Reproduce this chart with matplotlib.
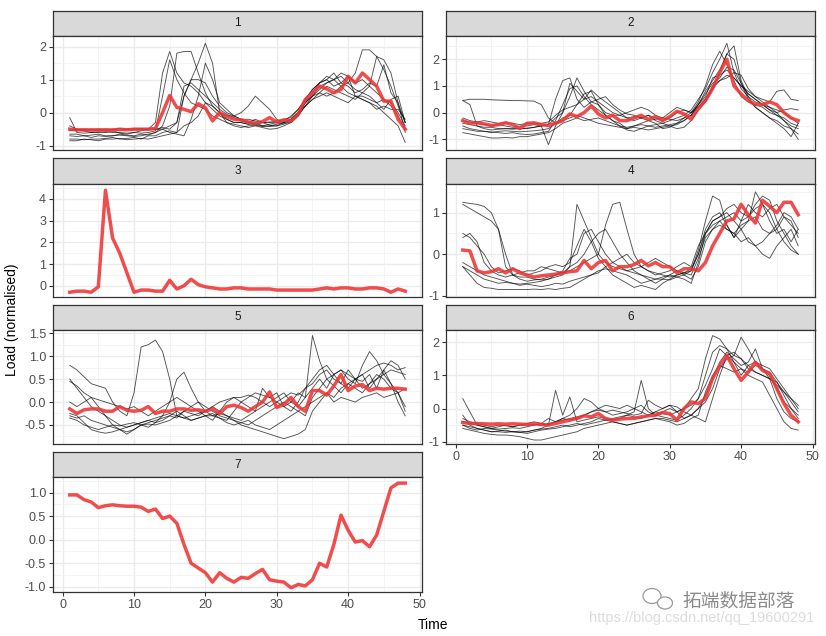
import matplotlib
matplotlib.use("Agg")
import matplotlib.pyplot as plt
from matplotlib.patches import Ellipse
import numpy as np

plt.rcParams['font.family'] = ['Liberation Sans', 'DejaVu Sans']
plt.rcParams['axes.unicode_minus'] = False

time = list(range(1, 49))

red_1 = [-0.5,-0.52,-0.52,-0.53,-0.52,-0.52,-0.53,-0.5,-0.52,-0.5,-0.5,-0.5,-0.48,0.0,0.52,0.16,0.1,0.03,0.27,0.15,-0.25,0.0,-0.12,-0.2,-0.22,-0.28,-0.32,-0.27,-0.15,-0.28,-0.22,-0.25,-0.05,0.4,0.6,0.8,0.72,0.6,0.7,1.1,0.9,1.2,1.0,0.8,0.35,0.35,-0.2,-0.5]
red_2 = [-0.3,-0.4,-0.38,-0.42,-0.48,-0.45,-0.38,-0.45,-0.6,-0.4,-0.38,-0.45,-0.48,-0.4,-0.3,-0.05,-0.15,0.0,0.25,-0.05,-0.2,-0.1,-0.3,-0.3,-0.2,-0.1,-0.25,-0.15,-0.3,-0.15,0.05,-0.05,-0.25,0.15,0.45,0.9,1.5,2.0,1.0,0.7,0.45,0.3,0.3,0.4,0.3,0.0,-0.2,-0.3]
red_3 = [-0.3,-0.25,-0.25,-0.3,-0.05,4.4,2.2,1.5,0.6,-0.3,-0.2,-0.2,-0.25,-0.25,0.25,-0.15,0.0,0.3,0.05,-0.05,-0.1,-0.15,-0.15,-0.1,-0.1,-0.15,-0.15,-0.15,-0.15,-0.2,-0.2,-0.2,-0.2,-0.2,-0.2,-0.15,-0.1,-0.15,-0.1,-0.1,-0.15,-0.15,-0.1,-0.1,-0.15,-0.3,-0.15,-0.25]
red_4 = [0.1,0.08,-0.4,-0.45,-0.42,-0.35,-0.45,-0.35,-0.45,-0.5,-0.55,-0.52,-0.5,-0.48,-0.45,-0.42,-0.4,-0.15,-0.35,-0.2,-0.15,-0.4,-0.3,-0.3,-0.25,-0.15,-0.28,-0.2,-0.3,-0.3,-0.45,-0.35,-0.35,-0.4,-0.2,0.2,0.5,0.8,0.85,1.2,0.95,0.75,1.3,1.15,1.0,1.25,1.25,0.95]
red_5 = [-0.15,-0.25,-0.17,-0.15,-0.15,-0.2,-0.2,-0.1,-0.18,-0.2,-0.18,-0.1,-0.25,-0.2,-0.2,-0.15,-0.15,-0.18,-0.17,-0.2,-0.15,-0.25,-0.1,-0.07,-0.12,-0.2,-0.1,0.0,0.22,-0.12,-0.05,0.1,-0.1,-0.2,0.25,0.25,0.15,0.35,0.6,0.25,0.35,0.38,0.25,0.3,0.28,0.3,0.3,0.28]
red_6 = [-0.42,-0.45,-0.45,-0.46,-0.47,-0.46,-0.47,-0.46,-0.47,-0.48,-0.46,-0.48,-0.5,-0.45,-0.4,-0.35,-0.3,-0.22,-0.25,-0.15,-0.3,-0.35,-0.32,-0.3,-0.3,-0.25,-0.22,-0.2,-0.12,-0.15,-0.35,0.0,0.2,0.15,0.3,0.9,1.3,1.6,1.2,0.85,1.1,1.4,1.15,1.05,0.6,0.15,-0.2,-0.4]
red_7 = [0.95,0.95,0.85,0.8,0.68,0.72,0.74,0.72,0.71,0.71,0.69,0.6,0.65,0.45,0.5,0.35,-0.1,-0.5,-0.6,-0.7,-0.9,-0.7,-0.82,-0.9,-0.8,-0.82,-0.72,-0.63,-0.85,-0.88,-0.9,-1.02,-0.95,-0.98,-0.85,-0.5,-0.58,-0.1,0.52,0.2,-0.05,-0.02,-0.15,0.1,0.6,1.1,1.2,1.2]

members_1 = [
 [-0.15,-0.6,-0.62,-0.6,-0.6,-0.58,-0.6,-0.6,-0.62,-0.6,-0.55,-0.5,-0.3,1.2,1.85,1.2,0.9,0.8,0.6,0.3,0.1,-0.1,-0.2,-0.3,-0.3,-0.35,-0.3,-0.4,-0.35,-0.3,-0.25,-0.1,0.1,0.4,0.7,0.9,1.0,0.8,0.9,1.1,0.9,1.0,0.8,0.6,0.4,0.3,0.0,-0.4],
 [-0.7,-0.72,-0.7,-0.75,-0.7,-0.72,-0.7,-0.68,-0.7,-0.72,-0.7,-0.65,-0.6,-0.4,0.2,1.8,1.85,1.85,1.2,0.6,0.2,0.0,-0.2,-0.3,-0.3,-0.35,-0.35,-0.4,-0.42,-0.4,-0.3,-0.2,0.0,0.3,0.5,0.6,0.5,0.6,0.8,0.9,1.2,1.9,1.9,1.7,1.3,0.8,0.2,-0.3],
 [-0.5,-0.55,-0.5,-0.5,-0.55,-0.5,-0.5,-0.48,-0.5,-0.5,-0.5,-0.52,-0.5,-0.45,-0.5,-0.3,0.5,1.0,1.5,2.1,1.5,0.0,-0.3,-0.4,-0.45,-0.4,-0.38,-0.42,-0.4,-0.35,-0.3,-0.2,0.0,0.3,0.5,0.7,0.9,1.0,0.8,0.6,0.5,0.5,0.4,0.3,0.4,0.2,-0.1,-0.5],
 [-0.8,-0.8,-0.82,-0.8,-0.8,-0.78,-0.75,-0.8,-0.78,-0.75,-0.8,-0.7,-0.7,-0.6,-0.55,-0.6,0.5,1.0,1.0,0.9,0.5,0.2,0.0,-0.1,-0.2,-0.2,-0.25,-0.3,-0.28,-0.3,-0.32,-0.3,-0.1,0.2,0.5,0.8,0.9,1.0,1.1,0.9,0.7,0.6,0.8,1.7,1.6,1.2,0.3,-0.6],
 [-0.55,-0.5,-0.55,-0.6,-0.58,-0.6,-0.55,-0.62,-0.65,-0.6,-0.62,-0.6,-0.55,0.5,1.6,1.0,0.6,0.3,0.2,0.1,-0.1,-0.2,-0.3,-0.35,-0.4,-0.45,-0.4,-0.45,-0.5,-0.48,-0.4,-0.3,-0.1,0.3,0.6,0.9,1.1,1.0,1.2,1.1,0.5,0.4,0.3,0.1,0.2,0.1,0.1,-0.2],
 [-0.85,-0.85,-0.8,-0.82,-0.85,-0.8,-0.8,-0.78,-0.82,-0.8,-0.78,-0.8,-0.75,-0.7,-0.65,-0.6,-0.4,-0.3,-0.1,0.3,0.2,0.0,-0.1,-0.1,0.0,0.2,0.5,0.3,0.1,-0.2,-0.3,-0.2,0.0,0.2,0.4,0.5,0.6,0.5,0.4,0.3,0.5,0.4,0.3,0.2,0.0,-0.2,-0.4,-0.9],
 [-0.4,-0.5,-0.55,-0.5,-0.5,-0.55,-0.5,-0.55,-0.5,-0.5,-0.48,-0.5,-0.5,-0.5,-0.6,-0.65,-0.7,-0.2,0.5,1.5,1.0,0.3,0.1,-0.1,-0.2,-0.3,-0.2,-0.3,-0.3,-0.25,-0.2,-0.15,0.1,0.4,0.7,0.9,1.0,1.2,0.9,0.8,0.6,0.7,0.9,0.8,1.45,0.6,0.3,-0.3],
 [-0.65,-0.65,-0.7,-0.68,-0.65,-0.7,-0.7,-0.65,-0.68,-0.7,-0.65,-0.68,-0.6,-0.5,-0.4,-0.3,0.8,0.9,0.7,0.5,0.3,0.1,-0.05,-0.15,-0.25,-0.3,-0.35,-0.3,-0.38,-0.4,-0.35,-0.25,-0.05,0.2,0.4,0.6,0.8,0.7,0.6,0.5,0.4,0.6,0.5,0.3,0.1,0.4,0.5,-0.3],
]

members_2 = [
 [0.45,0.5,0.5,0.5,0.48,0.47,0.46,0.45,0.45,0.44,0.43,0.3,-0.2,-0.4,-0.3,-0.2,-0.1,-0.2,-0.3,-0.4,-0.45,-0.5,-0.55,-0.6,-0.55,-0.6,-0.65,-0.6,-0.55,-0.5,-0.45,-0.3,-0.1,0.3,0.8,1.2,1.6,2.2,2.5,1.2,0.6,0.2,0.0,-0.2,-0.3,-0.5,-0.6,-0.8],
 [0.45,0.3,-0.5,-0.6,-0.65,-0.62,-0.6,-0.6,-0.58,-0.6,-0.55,-0.5,-0.45,0.5,1.2,1.3,0.5,0.2,0.4,0.3,0.0,-0.1,-0.1,-0.2,-0.15,-0.2,-0.1,-0.3,-0.4,-0.3,-0.2,-0.1,0.1,0.5,0.9,1.5,2.0,2.6,1.5,0.9,0.6,0.4,0.3,0.1,-0.1,-0.2,-0.4,-0.5],
 [-0.3,-0.35,-0.4,-0.45,-0.5,-0.45,-0.5,-0.55,-0.5,-0.5,-0.45,-0.5,-1.2,-0.5,0.0,1.1,0.8,0.5,0.85,0.6,0.4,0.2,0.0,-0.2,-0.3,-0.2,-0.1,-0.2,-0.3,-0.2,0.0,0.1,0.0,0.4,1.0,1.8,2.3,1.8,1.2,0.6,0.4,0.3,0.2,0.0,-0.1,-0.3,-0.6,-1.0],
 [-0.75,-0.8,-0.85,-0.9,-0.95,-0.95,-0.93,-0.95,-0.9,-0.9,-0.85,-0.8,-0.75,-0.6,-0.4,-0.3,-0.2,-0.3,-0.25,-0.2,-0.3,-0.4,-0.5,-0.55,-0.5,-0.45,-0.5,-0.55,-0.5,-0.45,-0.4,-0.3,-0.1,0.2,0.5,0.9,1.2,1.4,1.3,1.0,0.7,0.5,0.3,0.2,0.0,-0.3,-0.5,-0.6],
 [-0.5,-0.6,-0.65,-0.7,-0.72,-0.75,-0.78,-0.75,-0.8,-0.82,-0.8,-0.75,-0.7,-0.3,0.3,0.9,1.0,0.6,0.3,0.1,-0.1,-0.3,-0.4,-0.6,-0.5,-0.4,-0.3,-0.4,-0.6,-0.55,-0.4,-0.2,0.0,0.3,0.6,1.3,1.4,1.6,1.3,1.0,0.8,0.6,0.5,0.4,0.8,0.85,0.5,0.45],
 [-0.2,-0.3,-0.35,-0.3,-0.35,-0.4,-0.38,-0.4,-0.45,-0.4,-0.42,-0.4,-0.35,-0.1,0.1,0.2,0.3,0.5,0.6,0.4,0.2,0.0,-0.1,0.0,0.1,0.2,0.1,-0.1,-0.2,0.0,0.2,0.1,0.0,0.2,0.5,1.0,1.2,1.3,1.5,1.4,0.9,0.6,0.4,0.2,0.1,0.0,-0.2,-0.4],
 [-0.6,-0.65,-0.7,-0.7,-0.75,-0.7,-0.68,-0.7,-0.72,-0.7,-0.68,-0.65,-0.6,-0.4,-0.2,-0.1,0.3,0.7,0.8,0.3,-0.1,-0.3,-0.5,-0.65,-0.7,-0.6,-0.5,-0.45,-0.4,-0.5,-0.6,-0.55,-0.3,0.1,0.4,0.9,1.5,2.2,2.0,1.1,0.5,0.2,0.0,-0.2,-0.4,-0.6,-0.9,-0.4],
 [-0.4,-0.45,-0.5,-0.55,-0.55,-0.6,-0.6,-0.62,-0.6,-0.58,-0.55,-0.5,-0.45,-0.2,0.0,0.6,1.3,0.8,0.4,0.5,0.6,0.3,0.1,-0.05,-0.1,-0.2,-0.3,-0.25,-0.2,-0.25,-0.3,-0.2,-0.1,0.3,0.7,1.1,1.3,1.7,1.6,1.1,0.7,0.5,0.3,0.1,0.0,0.1,0.15,0.1],
]

members_3 = [red_3]

members_4 = [
 [1.25,1.22,1.2,1.15,1.0,0.6,-0.3,-0.5,-0.55,-0.55,-0.6,-0.62,-0.6,-0.55,-0.5,-0.3,1.2,0.8,0.4,0.0,-0.2,-0.3,-0.35,-0.4,-0.45,-0.5,-0.55,-0.6,-0.6,-0.62,-0.55,-0.5,-0.4,0.1,0.8,1.4,1.3,0.7,0.4,0.6,0.8,1.5,1.2,0.8,0.5,0.6,0.3,0.6],
 [1.2,1.1,1.0,0.9,0.8,0.6,0.0,-0.5,-0.45,-0.4,-0.4,-0.3,-0.35,-0.4,-0.45,-0.3,-0.2,0.0,0.3,0.5,0.6,0.3,0.0,-0.2,-0.4,-0.5,-0.6,-0.7,-0.6,-0.5,-0.55,-0.6,-0.7,-0.2,0.5,0.8,0.9,1.1,1.2,1.0,0.9,1.2,1.4,1.3,0.8,0.5,0.2,0.0],
 [0.5,0.4,0.2,0.0,-0.3,-0.45,-0.4,-0.35,-0.4,-0.5,-0.45,-0.4,-0.3,-0.25,-0.3,-0.2,0.2,0.6,0.3,-0.1,-0.3,-0.5,-0.6,-0.7,-0.8,-0.75,-0.8,-0.85,-0.7,-0.6,-0.5,-0.45,-0.4,0.0,0.6,0.9,1.0,0.7,0.4,0.8,1.2,1.0,0.9,1.1,1.2,0.9,0.7,0.5],
 [-0.2,-0.3,-0.4,-0.5,-0.55,-0.6,-0.65,-0.7,-0.72,-0.7,-0.68,-0.65,-0.6,-0.5,-0.45,-0.4,-0.3,-0.2,-0.1,0.0,0.7,1.2,1.25,0.6,0.0,-0.3,-0.4,-0.45,-0.5,-0.55,-0.5,-0.45,-0.35,0.0,0.5,0.7,0.8,0.9,1.0,0.8,0.9,1.1,1.2,1.0,0.6,0.9,0.8,0.4],
 [-0.3,-0.5,-0.7,-0.8,-0.82,-0.85,-0.85,-0.85,-0.85,-0.85,-0.84,-0.85,-0.83,-0.85,-0.82,-0.8,-0.7,-0.6,-0.5,-0.4,-0.35,-0.4,-0.45,-0.5,-0.6,-0.7,-0.65,-0.6,-0.55,-0.5,-0.4,-0.45,-0.5,-0.1,0.4,0.6,0.7,0.6,0.5,0.3,0.4,0.2,0.3,0.5,0.6,0.3,0.1,0.0],
 [0.4,0.5,0.3,-0.2,-0.4,-0.5,-0.55,-0.5,-0.6,-0.65,-0.62,-0.6,-0.55,-0.5,-0.4,-0.1,0.0,0.5,0.6,0.3,0.0,-0.2,-0.3,-0.4,-0.35,-0.3,-0.2,-0.1,-0.2,-0.3,-0.4,-0.5,-0.6,-0.3,0.3,0.6,0.8,0.6,0.5,0.7,0.8,0.9,0.6,0.5,0.7,1.0,0.9,0.6],
 [-0.3,-0.4,-0.5,-0.6,-0.65,-0.7,-0.68,-0.7,-0.75,-0.72,-0.75,-0.78,-0.75,-0.7,-0.72,-0.65,-0.6,-0.55,-0.5,-0.45,-0.3,-0.2,-0.1,0.0,-0.2,-0.3,-0.4,-0.5,-0.45,-0.4,-0.3,-0.2,-0.3,0.2,0.5,0.8,0.9,1.0,0.8,0.6,0.3,0.2,0.0,-0.1,0.2,0.4,0.6,0.2],
]

members_5 = [
 [0.8,0.7,0.55,0.4,0.35,0.3,0.0,-0.2,-0.3,0.2,1.2,1.25,1.35,1.1,0.5,-0.3,-0.35,-0.4,-0.35,-0.3,-0.3,-0.25,-0.3,-0.35,-0.4,-0.3,-0.2,-0.1,0.0,0.1,0.2,0.0,-0.1,0.1,1.45,0.9,0.5,0.6,0.7,0.6,0.5,0.3,0.4,0.5,0.6,0.7,0.65,0.6],
 [0.5,0.3,0.1,-0.1,-0.2,-0.3,-0.4,-0.5,-0.55,-0.5,-0.45,-0.4,-0.45,-0.3,0.0,0.5,0.65,0.3,0.0,-0.2,-0.3,-0.35,-0.4,-0.2,0.0,0.1,0.2,0.15,0.1,0.0,-0.1,-0.2,0.0,0.3,0.5,0.7,0.8,0.6,0.7,0.5,0.4,0.8,1.1,0.9,0.6,0.4,0.0,-0.3],
 [0.45,0.35,0.2,0.1,-0.1,-0.3,-0.5,-0.6,-0.65,-0.6,-0.5,-0.55,-0.45,-0.4,-0.3,-0.35,-0.2,-0.1,0.0,-0.1,-0.2,-0.3,-0.35,-0.4,-0.5,-0.55,-0.6,-0.65,-0.7,-0.75,-0.8,-0.75,-0.7,-0.6,-0.2,0.0,0.2,0.1,0.3,0.4,0.5,0.6,0.3,0.5,0.7,0.4,0.2,-0.2],
 [-0.25,-0.3,-0.45,-0.6,-0.65,-0.68,-0.65,-0.6,-0.55,-0.5,-0.45,-0.4,-0.35,-0.3,-0.25,-0.3,-0.35,-0.3,-0.25,-0.2,-0.1,0.0,0.05,0.1,0.1,0.15,0.1,0.0,-0.1,0.0,0.1,0.2,0.15,0.3,0.4,0.6,0.7,0.5,0.4,0.3,0.5,0.6,0.7,0.8,0.85,0.8,0.7,0.75],
 [-0.35,-0.4,-0.5,-0.55,-0.6,-0.55,-0.5,-0.52,-0.48,-0.45,-0.5,-0.48,-0.5,-0.45,-0.4,-0.3,-0.2,-0.25,-0.3,-0.2,-0.1,-0.2,-0.3,-0.4,-0.45,-0.5,-0.4,-0.3,-0.2,-0.1,0.0,-0.1,-0.2,-0.1,0.0,0.1,0.2,0.0,0.1,0.05,0.0,0.1,0.15,0.2,0.1,0.15,0.2,0.3],
 [0.0,-0.1,0.0,0.1,0.05,0.0,-0.05,-0.1,-0.15,-0.1,-0.2,-0.3,-0.2,-0.1,0.0,0.1,0.0,-0.1,-0.2,-0.3,-0.4,-0.2,0.0,0.1,0.0,-0.1,-0.2,0.3,0.1,0.2,-0.1,0.0,0.2,0.1,0.3,0.5,0.3,0.6,0.4,0.7,0.5,0.45,0.6,0.3,0.7,0.9,0.8,0.5],
 [-0.3,-0.35,-0.3,-0.4,-0.45,-0.5,-0.55,-0.6,-0.7,-0.6,-0.5,-0.45,-0.4,-0.35,-0.3,-0.2,-0.3,-0.4,-0.35,-0.3,-0.25,-0.35,-0.45,-0.5,-0.45,-0.4,-0.5,-0.55,-0.6,-0.5,-0.4,-0.3,-0.2,-0.3,0.1,0.3,0.5,0.35,0.2,0.4,0.3,0.2,0.4,0.6,0.5,0.3,0.2,-0.1],
]

members_6 = [
 [0.3,-0.1,-0.5,-0.55,-0.6,-0.62,-0.6,-0.58,-0.6,-0.55,-0.5,-0.45,-0.5,-0.4,-0.3,-0.35,-0.3,-0.2,-0.1,-0.05,-0.1,-0.2,-0.15,-0.1,0.0,0.1,-0.1,-0.2,-0.1,0.0,-0.1,0.0,0.3,0.6,1.5,2.2,2.1,1.8,1.4,1.0,1.3,1.1,1.0,0.9,0.7,0.5,0.3,0.0],
 [-0.2,-0.5,-0.6,-0.65,-0.7,-0.68,-0.65,-0.7,-0.72,-0.7,-0.65,-0.6,-0.5,0.55,-0.2,0.35,-0.4,-0.35,-0.3,-0.25,-0.3,-0.35,-0.3,-0.2,-0.1,0.85,0.0,-0.2,-0.25,-0.3,-0.35,-0.2,0.0,0.3,0.7,1.2,1.8,1.6,1.4,1.2,1.1,1.3,1.2,1.0,0.6,0.2,0.0,-0.3],
 [-0.4,-0.45,-0.5,-0.55,-0.6,-0.55,-0.5,-0.55,-0.5,-0.45,-0.4,-0.45,-0.3,-0.4,-0.3,-0.2,0.0,0.3,0.2,0.0,-0.1,-0.05,-0.1,-0.15,-0.2,-0.15,0.25,0.1,0.0,0.1,-0.1,-0.3,-0.2,0.0,0.2,0.6,1.2,1.5,1.6,2.15,1.8,1.4,1.2,1.1,0.8,0.4,0.0,-0.2],
 [-0.6,-0.65,-0.7,-0.75,-0.78,-0.8,-0.8,-0.82,-0.85,-0.9,-0.95,-0.95,-0.9,-0.85,-0.8,-0.75,-0.7,-0.6,-0.55,-0.5,-0.45,-0.4,-0.45,-0.5,-0.45,-0.4,-0.35,-0.3,-0.3,-0.35,-0.4,-0.3,-0.2,0.0,0.4,0.9,1.4,1.7,1.5,1.3,1.4,1.8,1.2,0.9,0.3,-0.1,-0.3,-0.4],
 [-0.5,-0.55,-0.6,-0.65,-0.7,-0.7,-0.72,-0.7,-0.68,-0.7,-0.65,-0.62,-0.6,-0.55,-0.5,-0.55,-0.5,-0.45,-0.4,-0.3,-0.35,-0.4,-0.45,-0.5,-0.45,-0.4,-0.35,-0.3,-0.35,-0.4,-0.5,-0.45,-0.3,-0.2,0.5,1.0,1.3,1.2,1.1,1.2,1.0,0.9,0.8,0.4,0.0,-0.4,-0.6,-0.65],
 [-0.3,-0.4,-0.45,-0.5,-0.55,-0.5,-0.52,-0.55,-0.5,-0.5,-0.48,-0.5,-0.45,-0.4,-0.35,-0.3,-0.25,-0.2,-0.1,0.0,0.1,0.05,0.0,0.1,0.0,-0.1,-0.2,-0.1,0.0,0.1,0.05,-0.1,-0.2,-0.3,-0.4,0.3,1.0,1.6,1.7,1.5,1.3,1.4,1.3,1.2,0.9,0.6,0.3,0.1],
 [-0.5,-0.6,-0.65,-0.6,-0.62,-0.65,-0.68,-0.7,-0.72,-0.75,-0.7,-0.65,-0.62,-0.6,-0.55,-0.5,-0.45,-0.5,-0.45,-0.4,-0.35,-0.3,-0.25,-0.2,-0.25,-0.3,-0.2,-0.1,-0.15,-0.2,-0.1,0.0,0.1,0.3,1.0,1.7,1.9,1.8,1.6,1.5,1.2,1.1,1.0,0.9,0.8,0.5,0.2,-0.1],
]

members_7 = [red_7]

panel_labels = ['1', '2', '3', '4', '5', '6', '7']
centroids = [red_1, red_2, red_3, red_4, red_5, red_6, red_7]
members = [members_1, members_2, members_3, members_4, members_5, members_6, members_7]
ylims = [(-1.13, 2.32), (-1.40, 2.87), (-0.52, 4.69), (-1.03, 1.69), (-0.915, 1.57), (-1.07, 2.37), (-1.11, 1.33)]
yticks = [[-1, 0, 1, 2], [-1, 0, 1, 2], [0, 1, 2, 3, 4], [-1, 0, 1], [-0.5, 0.0, 0.5, 1.0, 1.5], [-1, 0, 1, 2], [-1.0, -0.5, 0.0, 0.5, 1.0]]
ydec = [0, 0, 0, 0, 1, 0, 1]
xticks = [0, 10, 20, 30, 40, 50]

W, H = 826, 636
fig = plt.figure(figsize=(W / 100, H / 100), dpi=100)

cols = [(53, 422), (446, 815)]
rows = [(11, 36, 150), (158, 184, 297), (305, 330, 444), (452, 477, 592)]

def fx(px):
    return px / W

def fy(py):
    return 1 - py / H

border = '#333333'
for i in range(7):
    r, c = divmod(i, 2)
    x0, x1 = cols[c]
    st, sb, pb = rows[r]
    sax = fig.add_axes([fx(x0), fy(sb), fx(x1) - fx(x0), fy(st) - fy(sb)])
    sax.set_facecolor('#D9D9D9')
    sax.set_xticks([]); sax.set_yticks([])
    for s in sax.spines.values():
        s.set_color(border); s.set_linewidth(0.9)
    sax.text(0.5, 0.5, panel_labels[i], ha='center', va='center', fontsize=8.5, color='#1A1A1A', transform=sax.transAxes)
    ax = fig.add_axes([fx(x0), fy(pb), fx(x1) - fx(x0), fy(sb) - fy(pb)])
    ax.set_facecolor('white')
    ax.set_xlim(-1.35, 50.35)
    ax.set_ylim(*ylims[i])
    yt = yticks[i]
    ax.set_yticks(yt)
    if ydec[i]:
        ax.set_yticklabels([f'{v:.1f}' for v in yt])
    else:
        ax.set_yticklabels([f'{int(v)}' for v in yt])
    step = yt[1] - yt[0]
    minor_y = [v + step / 2 for v in [yt[0] - step] + yt]
    minor_y = [v for v in minor_y if ylims[i][0] < v < ylims[i][1]]
    ax.set_yticks(minor_y, minor=True)
    ax.set_xticks(xticks)
    ax.set_xticks([5, 15, 25, 35, 45], minor=True)
    ax.grid(which='major', color='#EBEBEB', linewidth=1.0, zorder=0)
    ax.grid(which='minor', color='#F2F2F2', linewidth=0.6, zorder=0)
    ax.set_axisbelow(True)
    ax.tick_params(which='minor', length=0)
    ax.tick_params(which='major', length=3, width=0.8, color=border, labelsize=9, labelcolor='#4D4D4D', pad=2)
    show_x = (i == 6) or (i == 5)
    if not show_x:
        ax.tick_params(axis='x', which='major', length=0, labelbottom=False)
    for s in ax.spines.values():
        s.set_color(border); s.set_linewidth(0.9)
    if i not in (2, 6):
        for m in members[i]:
            ax.plot(time, m, color='black', alpha=0.68, linewidth=0.65, zorder=2)
    ax.plot(time, centroids[i], color='#F03434', alpha=0.88, linewidth=2.5, zorder=3, solid_joinstyle='round')

fig.text(fx(12), fy(320), 'Load (normalised)', rotation=90, ha='center', va='center', fontsize=10, color='black')
fig.text(fx(433), fy(625), 'Time', ha='center', va='center', fontsize=10, color='black')

# watermark
wm = fig.add_axes([0, 0, 1, 1], facecolor='none')
wm.set_xlim(0, W); wm.set_ylim(H, 0); wm.axis('off')
wm.add_patch(Ellipse((652, 596), 18, 15, fill=False, edgecolor='#9a9a9a', linewidth=0.9))
wm.add_patch(Ellipse((665, 603), 15, 12, fill=True, facecolor='white', edgecolor='#9a9a9a', linewidth=0.9))
fig.text(fx(739), fy(601), '拓端数据部落', ha='center', va='center', fontsize=13.5, color='#8a8a8a',
         family=['Noto Sans CJK SC', 'DejaVu Sans'])
fig.text(fx(814), fy(618), 'https://blog.csdn.net/qq_19600291', ha='right', va='center', fontsize=10.5, color='#dcdcdc')

fig.savefig('out.png', dpi=100)
